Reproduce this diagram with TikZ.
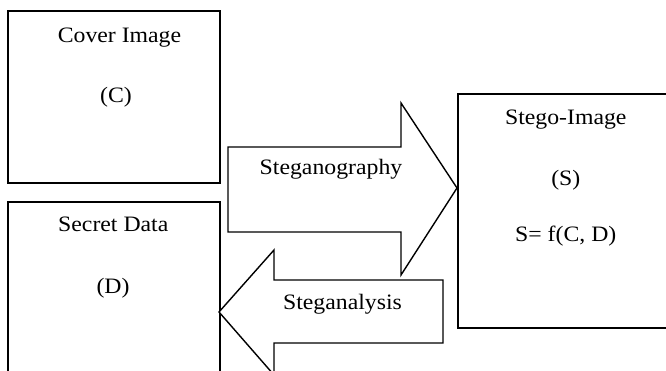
\documentclass[tikz,border=0pt]{standalone}
\usepackage{fontspec}
\setmainfont[FakeStretch=1.08]{Liberation Serif}
\begin{document}
\begin{tikzpicture}[x=1pt,y=-1pt,
  box/.style={draw, line width=1.7pt, anchor=north west, inner sep=0pt},
  bigarrow/.style={draw, line width=1.4pt, line join=miter, fill=white},
  lbl/.style={font=\fontsize{22}{26}\selectfont, inner sep=0pt, anchor=base}]
\useasboundingbox (0,0) rectangle (666,371);
\clip (0,0) rectangle (666,371);
% boxes
\node[box, minimum width=212pt, minimum height=172pt] (cover) at (7,10) {};
\node[box, minimum width=212pt, minimum height=190pt] (secret) at (7,201) {};
\node[box, minimum width=230pt, minimum height=234pt] (stego) at (457,93) {};
% arrows
\coordinate (tipR) at (457,188);
\coordinate (tipL) at (219,312);
\draw[bigarrow] (228,147) -- (401,147) -- (401,103) -- (tipR) -- (401,275) -- (401,232) -- (228,232) -- cycle;
\draw[bigarrow] (443,280) -- (274,280) -- (274,250) -- (tipL) -- (274,375) -- (274,343) -- (443,343) -- cycle;
% labels
\node[lbl] (covert) at (119.5,42.7) {Cover Image};
\node[lbl] (coverc) at (116,102.5) {(C)};
\node[lbl] (secrett) at (113.3,231.7) {Secret Data};
\node[lbl] (secretd) at (113,293) {(D)};
\node[lbl] (stegot) at (565.8,125) {Stego-Image};
\node[lbl] (stegos) at (565.8,185.7) {(S)};
\node[lbl] (stegof) at (565.8,241.7) {S= f(C, D)};
\node[lbl] (graphy) at (331,175) {Steganography};
\node[lbl] (analysis) at (342.5,309) {Steganalysis};
\end{tikzpicture}
\end{document}
